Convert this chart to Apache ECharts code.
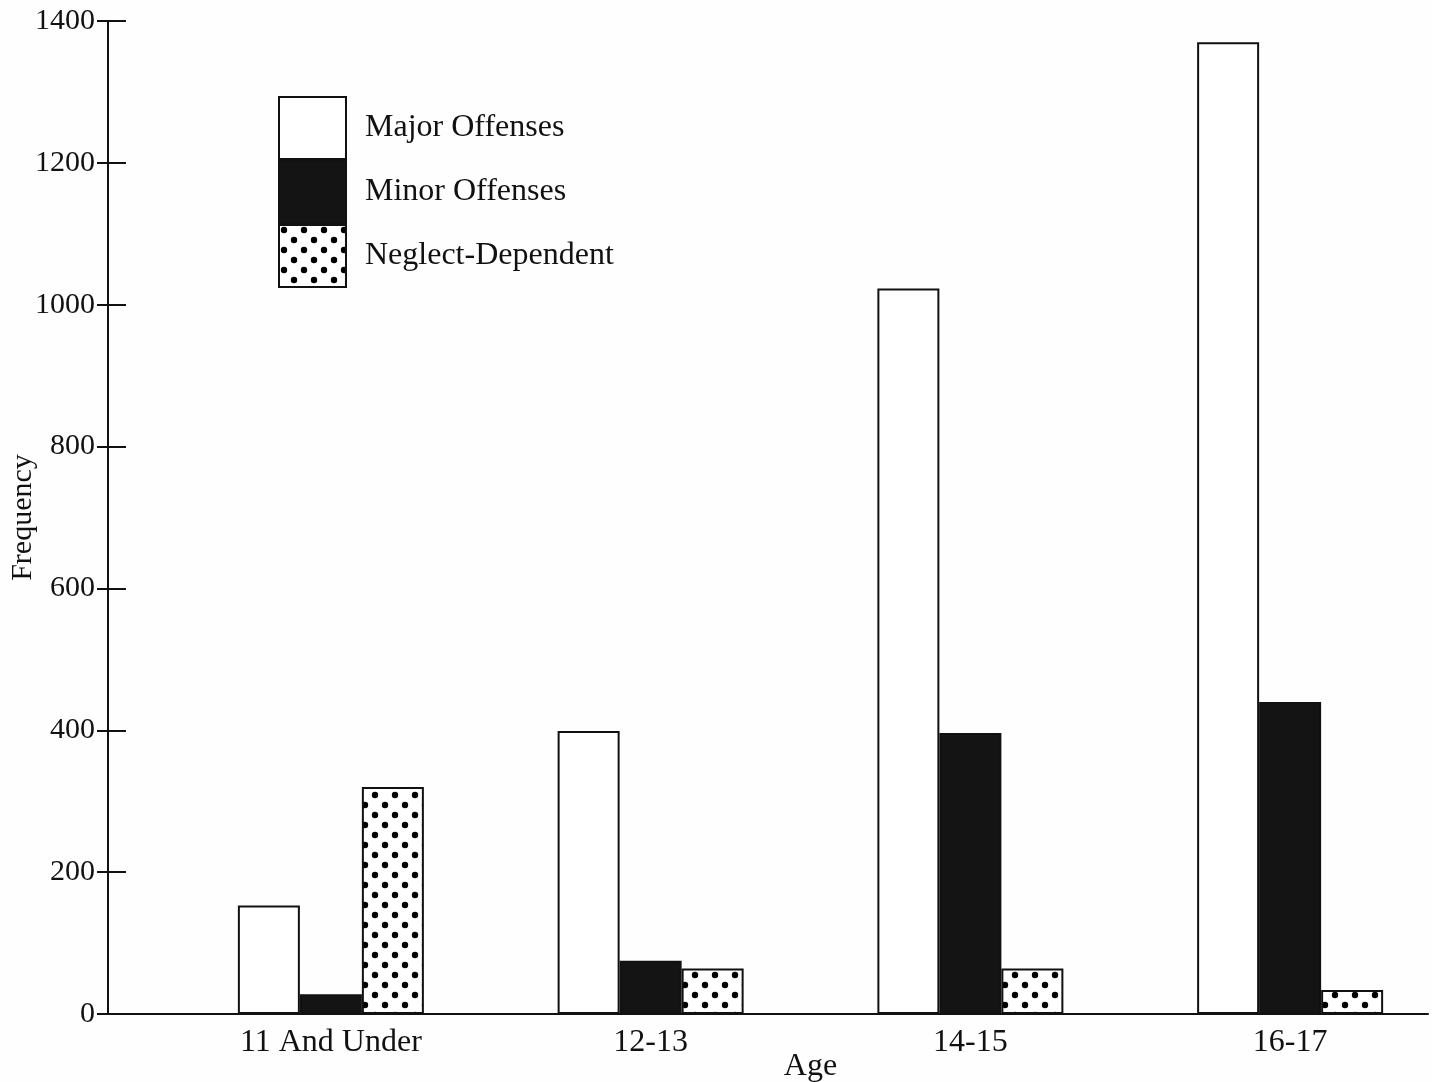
<!DOCTYPE html>
<html>
<head>
<meta charset="utf-8">
<script src="https://cdn.jsdelivr.net/npm/echarts@6/dist/echarts.min.js"></script>
<style>
html,body{margin:0;padding:0;background:#fefefe;}
#chart{width:1432px;height:1082px;}
</style>
</head>
<body>
<div id="chart"></div>
<script>
const categories = ['11 And Under', '12-13', '14-15', '16-17'];
const seriesNames = ['Major Offenses', 'Minor Offenses', 'Neglect-Dependent'];
const majorOffenses = [153, 399, 1023, 1370];
const minorOffenses = [28, 75, 396, 440];
const neglectDependent = [320, 64, 64, 34];
const yTicks = [0, 200, 400, 600, 800, 1000, 1200, 1400];

const FONT = 'Liberation Serif';

function dotPattern() {
  const c = document.createElement('canvas');
  c.width = 20; c.height = 20;
  const g = c.getContext('2d');
  g.fillStyle = '#ffffff';
  g.fillRect(0, 0, 20, 20);
  g.fillStyle = '#000000';
  [[5, 5], [15, 15]].forEach(function (p) {
    g.beginPath();
    g.arc(p[0], p[1], 3.2, 0, Math.PI * 2);
    g.fill();
  });
  return c;
}

const chart = echarts.init(document.getElementById('chart'), null, {renderer: 'canvas'});
const yMin = yTicks[0], yMax = yTicks[yTicks.length - 1], yStep = yTicks[1] - yTicks[0];

chart.setOption({
  backgroundColor: '#fefefe',
  animation: false,
  textStyle: {fontFamily: FONT, color: '#111'},
  legend: {
    left: 278, top: 96, orient: 'vertical', padding: 0,
    itemWidth: 67, itemHeight: 62, itemGap: 0,
    icon: 'rect',
    data: seriesNames,
    textStyle: {fontFamily: FONT, fontSize: 32, color: '#111', padding: [0, 0, 0, 14]}
  },
  grid: [
    {left: 108, right: 4, top: 21, bottom: 68, outerBoundsMode: 'none', containLabel: false},
    {left: 171, width: 1279, top: 21, bottom: 68, outerBoundsMode: 'none', containLabel: false}
  ],
  xAxis: [
    {type: 'value', gridIndex: 0, min: 0, max: 1,
     axisLine: {show: true, lineStyle: {color: '#111', width: 2}},
     axisTick: {show: false}, axisLabel: {show: false}, splitLine: {show: false}},
    {type: 'category', gridIndex: 1, data: categories,
     axisLine: {show: false}, axisTick: {show: false},
     axisLabel: {fontFamily: FONT, fontSize: 32, color: '#111', margin: 13},
     name: 'Age', nameLocation: 'middle', nameGap: 37, nameMoveOverlap: false,
     nameTextStyle: {fontFamily: FONT, fontSize: 32, color: '#111'}}
  ],
  yAxis: [
    {type: 'value', gridIndex: 0, min: yMin, max: yMax, interval: yStep, position: 'left',
     axisLine: {show: true, lineStyle: {color: '#111', width: 2}},
     axisTick: {show: true, length: 11, lineStyle: {color: '#111', width: 2}},
     axisLabel: {fontFamily: FONT, fontSize: 30, color: '#111', margin: 13,
                 formatter: function (v) { return String(v); }},
     splitLine: {show: false},
     name: 'Frequency', nameLocation: 'middle', nameRotate: 90, nameGap: 70, nameMoveOverlap: false,
     nameTextStyle: {fontFamily: FONT, fontSize: 30, color: '#111'}},
    {type: 'value', gridIndex: 0, min: yMin, max: yMax, interval: yStep, position: 'left',
     axisLine: {show: false},
     axisTick: {show: true, inside: true, length: 18, lineStyle: {color: '#111', width: 2}},
     axisLabel: {show: false}, splitLine: {show: false}},
    {type: 'value', gridIndex: 1, min: yMin, max: yMax, show: false}
  ],
  series: [
    {name: seriesNames[0], type: 'bar', xAxisIndex: 1, yAxisIndex: 2, data: majorOffenses,
     barWidth: 62, barGap: '0%',
     itemStyle: {color: '#ffffff', borderColor: '#111', borderWidth: 2}},
    {name: seriesNames[1], type: 'bar', xAxisIndex: 1, yAxisIndex: 2, data: minorOffenses,
     barWidth: 62, barGap: '0%',
     itemStyle: {color: '#141414', borderColor: '#111', borderWidth: 2}},
    {name: seriesNames[2], type: 'bar', xAxisIndex: 1, yAxisIndex: 2, data: neglectDependent,
     barWidth: 62, barGap: '0%',
     itemStyle: {color: {image: dotPattern(), repeat: 'repeat'}, borderColor: '#111', borderWidth: 2}}
  ]
});
</script>
</body>
</html>
